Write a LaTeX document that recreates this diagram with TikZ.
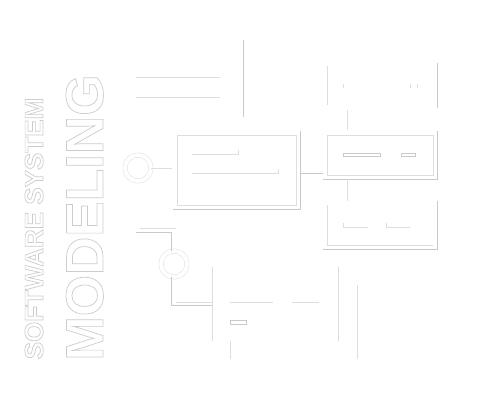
\documentclass[tikz,border=0pt]{standalone}
\usepackage{fontspec}
\setmainfont{Liberation Sans}
\usepackage{xcolor}
\usepackage{tikz}
\usetikzlibrary{positioning}
\usetikzlibrary{calc}
\definecolor{rimgray}{gray}{0.87}
\definecolor{shadegray}{gray}{0.79}
\definecolor{inkgray}{gray}{0.80}
\definecolor{ringgray}{gray}{0.88}
\newcommand{\hollow}[1]{\special{pdf:literal direct 1 Tr 0.4 w}#1\special{pdf:literal direct 0 Tr}}

\begin{document}
\begin{tikzpicture}[x=0.02cm, y=-0.02cm, line width=0.5pt,
	every node/.style={inner sep=0pt, outer sep=0pt},
	rim/.style={draw=rimgray},
	shade/.style={draw=shadegray},
	ring/.style={circle, minimum size=0.52cm, draw=ringgray, double=white, double distance=0.075cm, line width=0.3pt},
	panel/.style={rectangle, minimum width=2.12cm, minimum height=0.8cm},
	bar/.style={draw=shadegray, line width=0.4pt},
	title/.style={rotate=90, anchor=base, text=inkgray}]
	\fill[white] (0,0) rectangle (500,400);
	\useasboundingbox (0,0) rectangle (500,400);

	% lettering
	\node[title, font=\bfseries\fontsize{30.2}{30}\selectfont] (head) at (103,217.5) {\hollow{MODELING}};
	\node[title, font=\bfseries\fontsize{14.8}{15}\selectfont] (subhead) at (43,228.5) {\hollow{SOFTWARE SYSTEM}};

	% free strokes at the top
	\draw[rim] (136,77) -- (220,77);
	\draw[rim] (136,97) -- (220,97);
	\draw[shade] (243,40) -- (243,117);

	% boxes
	\node[panel, rim, minimum width=2.38cm, minimum height=1.4cm] (boxA) at (236.5,170) {};
	\node[panel, minimum height=0.78cm] (boxB) at (380,85.5) {};
	\node[panel, rim] (boxC) at (380,155) {};
	\node[panel] (boxD) at (380,225) {};
	\node[panel, minimum width=2.52cm, minimum height=1.48cm] (boxE) at (275,304) {};
	\node[panel, minimum width=2.54cm, minimum height=1.48cm] (boxF) at (293.5,322) {};

	% rings
	\node[ring] (c1) at (138,168) {};
	\node[ring] (c2) at (174,264) {};

	% offset edges
	\foreach \b in {boxA, boxC, boxD}
	{
		\draw[shade] ($(\b.south west)+(-4,4)$) -| ($(\b.north east)+(4,-4)$);
	}
	\draw[shade] ($(boxB.south east)+(4,3)$) -- ($(boxB.north east)+(4,-3)$);
	\draw[rim] (boxB.north west) -- (boxB.south west);
	\draw[rim] (boxD.north west) -- (boxD.south west) -- (boxD.south east);
	\draw[rim] (boxE.north west) -- (boxE.south west);
	\draw[rim] (boxE.north east) -- (boxE.south east);
	\draw[rim] (boxF.west |- boxE.south) -- (boxF.south west);
	\draw[rim] (boxF.north east) -- (boxF.south east);

	% inner marks
	\draw[rim] ($(boxA.north west)+(15,19)$) -- ++(46,0) -- ++(0,-4);
	\draw[rim] ($(boxA.north west)+(15,38)$) -- ++(86,0) -- ++(0,-4);
	\foreach \dx in {16, 83, 90}
	{
		\draw[rim] ($(boxB.north west)+(\dx,18)$) -- ++(0,4);
	}
	\draw[bar] ($(boxC.north west)+(16,18.5)$) rectangle ++(37,3);
	\draw[bar] ($(boxC.north west)+(74,18.5)$) rectangle ++(14,3);
	\draw[rim] ($(boxD.north west)+(16,18)$) -- ++(0,4) -- ++(25,0);
	\draw[rim] ($(boxD.north west)+(59,18)$) -- ++(0,4) -- ++(24,0);
	\draw[rim] ($(boxF.north west)+(0,17)$) -- ++(43,0);
	\draw[rim] ($(boxF.north west)+(62,17)$) -- ++(27,0);
	\draw[bar] ($(boxF.north west)+(0,35)$) rectangle ++(16,4);

	% connectors
	\coordinate (w0) at (136,232);
	\coordinate (w1) at (140,228);
	\draw[rim, shorten >=0.1cm] (c1) -- (c1 -| boxA.west);
	\draw[shade] ($(boxA.east)+(4,3)$) -- ($(boxA.east -| boxC.west)+(-4,3)$);
	\draw[rim] ($(boxB.south west)+(20,5)$) -- ($(boxC.north west)+(20,-5)$);
	\draw[rim] ($(boxC.south west)+(20,4)$) -- ($(boxD.north west)+(20,-4)$);
	\draw[shade] (w0) -| ($(c2.north)+(-3,0)$);
	\draw[shade] ($(c2.south)+(-3,0)$) |- ($(boxE.west)+(0,1)$);
	\draw[rim] (w1) -- ++(36,0);
	\draw[rim] ($(boxE.west)+(-36,-2)$) -- ($(boxE.west)+(0,-2)$);
\end{tikzpicture}
\end{document}
